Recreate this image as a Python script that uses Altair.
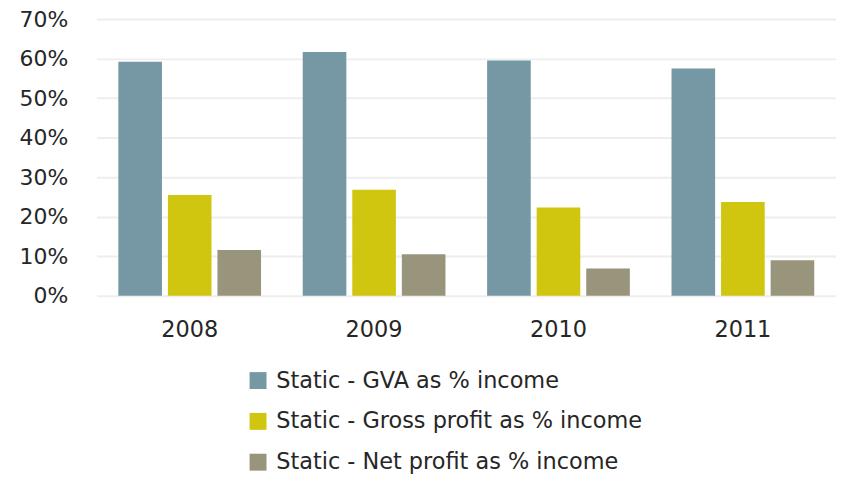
import altair as alt
import pandas as pd

years = ["2008", "2009", "2010", "2011"]
series = ["Static - GVA as % income", "Static - Gross profit as % income", "Static - Net profit as % income"]
gva = [0.592, 0.617, 0.595, 0.575]
gross = [0.255, 0.268, 0.223, 0.237]
net = [0.116, 0.105, 0.069, 0.090]
colors = ["#7598A4", "#D0C50F", "#98957C"]

rows = []
for i, y in enumerate(years):
    for s, vals in zip(series, [gva, gross, net]):
        rows.append({"year": y, "series": s, "value": vals[i]})
df = pd.DataFrame(rows)

font = "DejaVu Sans"
txt = "#262626"

chart = alt.Chart(df).mark_bar().encode(
    x=alt.X("year:N", sort=years, title=None,
            scale=alt.Scale(paddingInner=0.226, paddingOuter=0.118),
            axis=alt.Axis(labelAngle=0, ticks=False, domain=False, labelPadding=23,
                          labelFontSize=22.5, labelColor=txt, labelFont=font)),
    xOffset=alt.XOffset("series:N", sort=series,
                        scale=alt.Scale(paddingInner=0.12, paddingOuter=0)),
    y=alt.Y("value:Q", title=None,
            scale=alt.Scale(domain=[0, 0.7], nice=False),
            axis=alt.Axis(format=".0%", values=[0, 0.1, 0.2, 0.3, 0.4, 0.5, 0.6, 0.7],
                          ticks=False, domain=False, labelPadding=29,
                          labelFontSize=22, labelColor=txt, labelFont=font,
                          gridColor="#EEEEEE", gridWidth=2)),
    color=alt.Color("series:N", sort=series, title=None,
                    scale=alt.Scale(domain=series, range=colors),
                    legend=alt.Legend(orient="none", legendX=151, legendY=352,
                                      direction="vertical", symbolType="square",
                                      symbolSize=289, symbolStrokeWidth=0,
                                      labelFontSize=22.5, labelFont=font, labelColor=txt,
                                      rowPadding=18, labelOffset=7, labelLimit=600)),
).properties(
    width=743, height=278,
    autosize=alt.AutoSizeParams(type="none"),
    padding={"left": 89, "top": 10, "right": 0, "bottom": 178},
).configure_view(stroke=None)

chart.save("out.html", embed_options={"renderer": "svg", "actions": False})
